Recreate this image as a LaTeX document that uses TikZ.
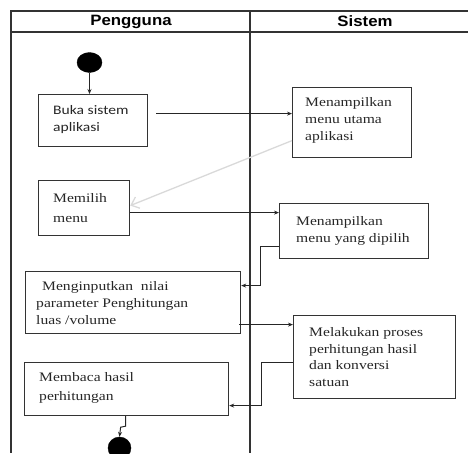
\documentclass[tikz,border=0pt]{standalone}
\usepackage{fontspec}
\setmainfont[FakeStretch=1.2]{Liberation Serif}
\newfontfamily\calfont[FakeStretch=1.2]{Carlito}
\newfontfamily\hdrfont[FakeStretch=1.12]{Liberation Sans}
\usetikzlibrary{arrows.meta,shapes.geometric,calc}
\begin{document}
\begin{tikzpicture}[x=1pt,y=-1pt,
  frame/.style={draw=black!80,line width=1.4pt},
  box/.style={draw=black!80,line width=1.2pt,rectangle,anchor=north west,inner sep=0pt},
  txt/.style={anchor=west,align=left,inner sep=0pt,text=black!85,font=\fontsize{13}{17}\selectfont},
  stxt/.style={txt,font=\calfont\fontsize{13}{17}\selectfont},
  dot/.style={ellipse,fill=black,draw=black,inner sep=0pt},
  arr/.style={draw=black!85,line width=1pt,-{Stealth[length=5pt,width=4pt]}},
  garr/.style={draw=black!15,line width=1.3pt,-{Straight Barb[length=7pt,width=12pt]}}]
\useasboundingbox (0,0) rectangle (468,453);
% swimlane frame
\draw[frame] (468,11) -- (11,11) -- (11,453);
\draw[frame] (11,32) -- (468,32);
\draw[frame] (250,11) -- (250,453);
\node[font=\hdrfont\bfseries\fontsize{15}{18}\selectfont] (h1) at (131,21.5) {Pengguna};
\node[font=\hdrfont\bfseries\fontsize{15}{18}\selectfont] (h2) at (365,21.5) {Sistem};
% start / end
\node[dot,minimum width=25pt,minimum height=20pt] (st) at (89.5,62.5) {};
\node[dot,minimum width=23pt,minimum height=22pt] (en) at (119.5,448) {};
% boxes
\node[box,minimum width=109pt,minimum height=52pt] (b1) at (38,94) {};
\node[box,minimum width=119pt,minimum height=70pt] (b2) at (292,87) {};
\node[box,minimum width=91pt,minimum height=55pt] (b3) at (38,180) {};
\node[box,minimum width=149pt,minimum height=55pt] (b4) at (279,203) {};
\node[box,minimum width=215pt,minimum height=62pt] (b5) at (25,271) {};
\node[box,minimum width=162pt,minimum height=83pt] (b6) at (293,315) {};
\node[box,minimum width=204pt,minimum height=53pt] (b7) at (24,362) {};
% texts
\node[stxt] (t1) at ([xshift=15pt,yshift=1pt]b1.west) {Buka sistem\\aplikasi};
\node[txt] (t2) at ([xshift=13pt,yshift=2pt]b2.west) {Menampilkan\\menu utama\\aplikasi};
\node[txt,font=\fontsize{13}{20}\selectfont] (t3) at ([xshift=15pt]b3.west) {Memilih\\menu};
\node[txt] (t4) at ([xshift=17pt]b4.west) {Menampilkan\\menu yang dipilih};
\node[txt] (t5) at ([xshift=11pt]b5.west) {\hspace{6pt}Menginputkan\ \ nilai\\parameter Penghitungan\\luas /volume};
\node[txt,font=\fontsize{13}{16.5}\selectfont] (t6) at ([xshift=16pt]b6.west) {Melakukan proses\\perhitungan hasil\\dan konversi\\satuan};
\node[txt,font=\fontsize{13}{19}\selectfont] (t7) at ([xshift=15pt,yshift=1pt]b7.west) {Membaca hasil\\perhitungan};
% connectors
\draw[arr] (st.south) -- (st.south |- b1.north);
\draw[arr] ([xshift=8pt,yshift=7pt]b1.east) coordinate (a2) -- (a2 -| b2.west);
\draw[garr] ([yshift=-18pt]b2.west) -- ([yshift=2.5pt]b3.east);
\draw[arr] ([yshift=-4.5pt]b3.east) coordinate (a4) -- (a4 -| b4.west);
\draw[arr] ([yshift=-15.5pt]b4.west) -- ++(-19,0) |- ([yshift=17pt]b5.east);
\draw[arr] ([xshift=-2pt,yshift=-22pt]b5.east) coordinate (a6) -- (a6 -| b6.west);
\draw[arr] ([yshift=-5.5pt]b6.west) -- ++(-32,0) |- ([yshift=-16.5pt]b7.east);
\draw[arr] ([xshift=-1pt]b7.south) -- ++(0,10) -- ++(-5,1) -- (en.north);
\end{tikzpicture}
\end{document}
